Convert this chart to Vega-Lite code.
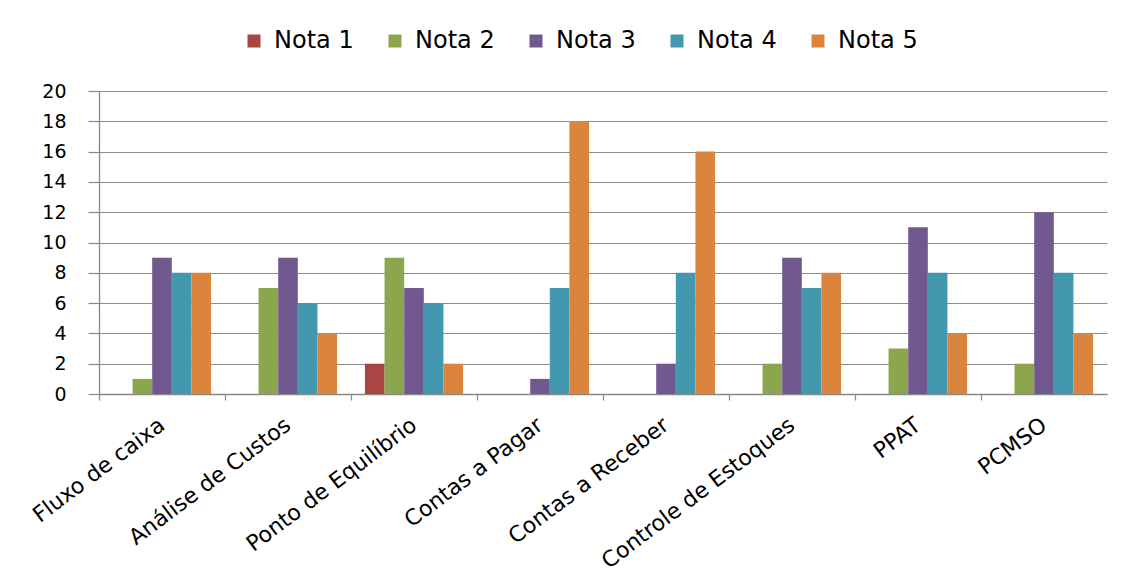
{
  "$schema": "https://vega.github.io/schema/vega-lite/v6.json",
  "width": 1008,
  "height": 303,
  "autosize": {"type": "none"},
  "padding": {"left": 99, "top": 91, "right": 19, "bottom": 189},
  "background": "white",
  "config": {
    "view": {"stroke": null},
    "font": "DejaVu Sans",
    "axis": {"labelColor": "#000000", "labelFont": "DejaVu Sans"}
  },
  "data": {
    "values": [
      {"categoria": "Fluxo de caixa", "nota": "Nota 1", "valor": 0},
      {"categoria": "Fluxo de caixa", "nota": "Nota 2", "valor": 1},
      {"categoria": "Fluxo de caixa", "nota": "Nota 3", "valor": 9},
      {"categoria": "Fluxo de caixa", "nota": "Nota 4", "valor": 8},
      {"categoria": "Fluxo de caixa", "nota": "Nota 5", "valor": 8},
      {"categoria": "Análise de Custos", "nota": "Nota 1", "valor": 0},
      {"categoria": "Análise de Custos", "nota": "Nota 2", "valor": 7},
      {"categoria": "Análise de Custos", "nota": "Nota 3", "valor": 9},
      {"categoria": "Análise de Custos", "nota": "Nota 4", "valor": 6},
      {"categoria": "Análise de Custos", "nota": "Nota 5", "valor": 4},
      {"categoria": "Ponto de Equilíbrio", "nota": "Nota 1", "valor": 2},
      {"categoria": "Ponto de Equilíbrio", "nota": "Nota 2", "valor": 9},
      {"categoria": "Ponto de Equilíbrio", "nota": "Nota 3", "valor": 7},
      {"categoria": "Ponto de Equilíbrio", "nota": "Nota 4", "valor": 6},
      {"categoria": "Ponto de Equilíbrio", "nota": "Nota 5", "valor": 2},
      {"categoria": "Contas a Pagar", "nota": "Nota 1", "valor": 0},
      {"categoria": "Contas a Pagar", "nota": "Nota 2", "valor": 0},
      {"categoria": "Contas a Pagar", "nota": "Nota 3", "valor": 1},
      {"categoria": "Contas a Pagar", "nota": "Nota 4", "valor": 7},
      {"categoria": "Contas a Pagar", "nota": "Nota 5", "valor": 18},
      {"categoria": "Contas a Receber", "nota": "Nota 1", "valor": 0},
      {"categoria": "Contas a Receber", "nota": "Nota 2", "valor": 0},
      {"categoria": "Contas a Receber", "nota": "Nota 3", "valor": 2},
      {"categoria": "Contas a Receber", "nota": "Nota 4", "valor": 8},
      {"categoria": "Contas a Receber", "nota": "Nota 5", "valor": 16},
      {"categoria": "Controle de Estoques", "nota": "Nota 1", "valor": 0},
      {"categoria": "Controle de Estoques", "nota": "Nota 2", "valor": 2},
      {"categoria": "Controle de Estoques", "nota": "Nota 3", "valor": 9},
      {"categoria": "Controle de Estoques", "nota": "Nota 4", "valor": 7},
      {"categoria": "Controle de Estoques", "nota": "Nota 5", "valor": 8},
      {"categoria": "PPAT", "nota": "Nota 1", "valor": 0},
      {"categoria": "PPAT", "nota": "Nota 2", "valor": 3},
      {"categoria": "PPAT", "nota": "Nota 3", "valor": 11},
      {"categoria": "PPAT", "nota": "Nota 4", "valor": 8},
      {"categoria": "PPAT", "nota": "Nota 5", "valor": 4},
      {"categoria": "PCMSO", "nota": "Nota 1", "valor": 0},
      {"categoria": "PCMSO", "nota": "Nota 2", "valor": 2},
      {"categoria": "PCMSO", "nota": "Nota 3", "valor": 12},
      {"categoria": "PCMSO", "nota": "Nota 4", "valor": 8},
      {"categoria": "PCMSO", "nota": "Nota 5", "valor": 4}
    ]
  },
  "mark": {"type": "bar"},
  "encoding": {
    "x": {
      "field": "categoria",
      "type": "nominal",
      "sort": null,
      "scale": {"paddingInner": 0, "paddingOuter": 0},
      "axis": {
        "title": null,
        "bandPosition": 0,
        "labelAngle": -37,
        "labelAlign": "right",
        "labelBaseline": "top",
        "labelFontSize": 22,
        "labelPadding": 14,
        "labelOffset": -6,
        "labelLimit": 400,
        "tickSize": 6,
        "tickColor": "#888888",
        "tickWidth": 1.2,
        "domainColor": "#888888",
        "domainWidth": 1.3,
        "grid": false
      }
    },
    "xOffset": {
      "field": "nota",
      "type": "nominal",
      "scale": {"paddingInner": 0, "paddingOuter": 0.71}
    },
    "y": {
      "field": "valor",
      "type": "quantitative",
      "scale": {"domain": [0, 20], "nice": false},
      "axis": {
        "title": null,
        "values": [0, 2, 4, 6, 8, 10, 12, 14, 16, 18, 20],
        "labelFontSize": 19,
        "labelPadding": 22,
        "tickSize": 11,
        "tickColor": "#888888",
        "tickWidth": 1.2,
        "domainColor": "#888888",
        "domainWidth": 1.3,
        "grid": true,
        "gridColor": "#8c8c8c",
        "gridWidth": 1.2
      }
    },
    "color": {
      "field": "nota",
      "type": "nominal",
      "scale": {
        "domain": ["Nota 1", "Nota 2", "Nota 3", "Nota 4", "Nota 5"],
        "range": ["#A94543", "#8BA64D", "#71588F", "#4298AF", "#DB843D"]
      },
      "legend": {
        "title": null,
        "orient": "none",
        "direction": "horizontal",
        "legendX": 143,
        "legendY": -62,
        "symbolType": "square",
        "symbolSize": 169,
        "symbolStrokeWidth": 0,
        "labelFontSize": 24,
        "labelColor": "#000000",
        "labelOffset": 8,
        "columnPadding": 29
      }
    }
  }
}
